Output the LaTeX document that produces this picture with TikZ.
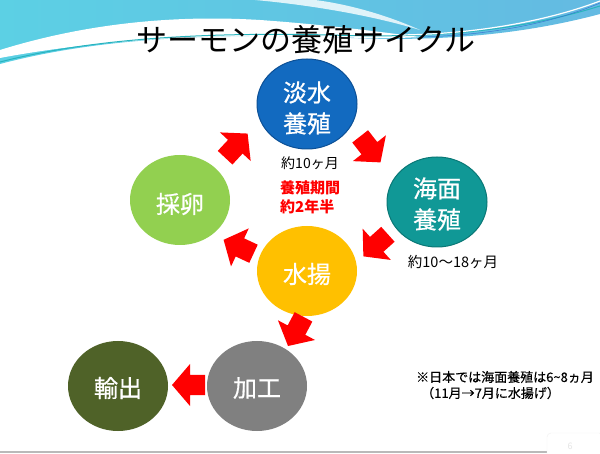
\documentclass[tikz,border=0pt]{standalone}
\usepackage{fontspec}
\setmainfont{Noto Sans CJK JP}
\newfontfamily\jp{Noto Sans CJK JP}
\newfontfamily\jpm[FakeBold=0.6]{Noto Sans CJK JP}
\newfontfamily\jpn[FakeBold=0.4]{Noto Sans CJK JP}
\usetikzlibrary{shapes.geometric}
\definecolor{topL}{RGB}{92,208,228}
\definecolor{topM}{RGB}{160,220,232}
\definecolor{topR}{RGB}{100,186,226}
\definecolor{lineTeal}{RGB}{40,180,190}
\definecolor{lineBlue}{RGB}{60,120,210}
\definecolor{cBlue}{RGB}{18,106,192}
\definecolor{cBlueD}{RGB}{12,80,150}
\definecolor{cTeal}{RGB}{16,152,150}
\definecolor{cTealD}{RGB}{10,120,118}
\definecolor{cGreen}{RGB}{146,208,80}
\definecolor{cYellow}{RGB}{255,192,0}
\definecolor{cGray}{RGB}{128,128,128}
\definecolor{cOlive}{RGB}{79,98,40}
\definecolor{arrRed}{RGB}{255,0,0}
\tikzset{
  stage/.style={shape=ellipse, minimum width=100pt, minimum height=90pt, inner sep=0pt},
  stagetxt/.style={text=white, align=center, inner sep=0pt, font=\jpm\fontsize{24}{31}\selectfont},
  smalltxt/.style={font=\jp\fontsize{14}{16}\selectfont, text=black, inner sep=0pt},
  notetxt/.style={font=\jpn\fontsize{13}{15}\selectfont, text=black, inner sep=0pt, anchor=west},
  redtxt/.style={font=\jp\bfseries\fontsize{15}{17}\selectfont, text=arrRed, inner sep=0pt, anchor=west},
  blockarrow/.pic={\fill[arrRed] (-16,-10) -- (-1,-10) -- (-1,-21) -- (17,0) -- (-1,21) -- (-1,10) -- (-16,10) -- cycle;}
}
\begin{document}
\begin{tikzpicture}[x=1pt,y=-1pt]
\useasboundingbox (0,0) rectangle (600,454);
\fill[white] (0,0) rectangle (600,454);
% top wave background
\shade[left color=topL, middle color=topM, right color=topR]
  (0,0) -- (600,0) -- (600,14) .. controls (510,38) and (420,42) .. (330,37)
  .. controls (200,33) and (90,40) .. (0,64) -- cycle;
\fill[white] (0,50) .. controls (90,22) and (180,15) .. (260,20)
  .. controls (330,25) and (380,32) .. (420,37)
  .. controls (390,39) and (360,38) .. (330,37)
  .. controls (200,33) and (90,41) .. (0,58) -- cycle;
\fill[white, opacity=0.8] (255,0) .. controls (310,5) and (370,15) .. (420,30)
  .. controls (380,12) and (340,3) .. (315,0) -- cycle;
\draw[lineTeal, line width=1pt] (0,62) .. controls (90,39) and (200,32) .. (330,35)
  .. controls (420,38) and (510,34) .. (600,6);
\draw[white, line width=1.2pt] (400,35) .. controls (480,34) and (550,20) .. (600,1);
\draw[lineBlue, line width=0.5pt] (420,37) .. controls (500,35) and (560,20) .. (600,3);
% title
\node[font=\jp\fontsize{31}{34}\selectfont, inner sep=0pt] (title) at (306,40) {サーモンの養殖サイクル};
% stages
\node[stage, fill=cBlue, draw=cBlueD, line width=1pt] (tansui) at (307,104) {};
\node[stage, fill=cTeal, draw=cTealD, line width=1pt] (kaimen) at (437,202) {};
\node[stage, fill=cGreen] (sairan) at (180,200) {};
\node[stage, fill=cYellow] (mizuage) at (307,271) {};
\node[stage, fill=cGray] (kakou) at (257,386) {};
\node[stage, fill=cOlive] (yushutsu) at (118,386) {};
\node[stagetxt] (tansuiT) at ([yshift=-4pt]tansui.center) {淡水\\養殖};
\node[stagetxt] (kaimenT) at ([yshift=-2pt]kaimen.center) {海面\\養殖};
\node[stagetxt] (sairanT) at ([yshift=-4pt]sairan.center) {採卵};
\node[stagetxt] (mizuageT) at ([yshift=-3pt]mizuage.center) {水揚};
\node[stagetxt] (kakouT) at ([yshift=-2pt]kakou.center) {加工};
\node[stagetxt] (yushutsuT) at ([yshift=-2pt]yushutsu.center) {輸出};
% labels
\node[smalltxt] (l1) at (310,163) {約10ヶ月};
\node[smalltxt, font=\jp\fontsize{14.5}{16}\selectfont] (l2) at (453,262) {約10〜18ヶ月};
\node[redtxt] (r1) at (280,188) {養殖期間};
\node[redtxt] (r2) at (280,207) {約2年半};
\node[notetxt] (n1) at (416,377) {※日本では海面養殖は6\char`~8ヵ月};
\node[notetxt] (n2) at (421,393) {（11月→7月に水揚げ）};
% arrows
\pic[rotate=47] at (236,146) {blockarrow};
\pic[rotate=-52] at (370,149) {blockarrow};
\pic[rotate=222] at (376,245) {blockarrow};
\pic[rotate=155] at (239,247) {blockarrow};
\pic[rotate=-118] at (296,331) {blockarrow};
\pic[rotate=180] at (189,385) {blockarrow};
% footer
\draw[gray!55, line width=1.5pt] (0,452) -- (600,452);
\path[fill=white, draw=gray!12, rounded corners=4pt] (547,456) -- (547,433) -- (603,433) -- (603,456);
\node[font=\fontsize{9}{10}\selectfont, text=gray!20, inner sep=0pt] (pg) at (570,446) {6};
\end{tikzpicture}
\end{document}
